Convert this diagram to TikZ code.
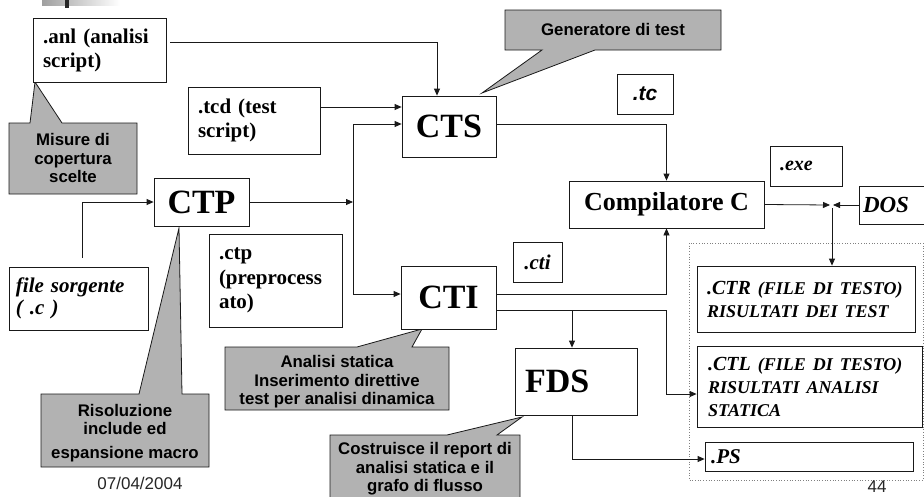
\documentclass[tikz,border=0pt]{standalone}
\usepackage{fontspec}
\setmainfont{Liberation Serif}
\setsansfont{Liberation Sans}
\usetikzlibrary{arrows.meta}
\definecolor{callgray}{RGB}{178,178,178}
\definecolor{edge}{RGB}{25,25,25}
\begin{document}
\begin{tikzpicture}[x=1pt,y=-1pt,
  box/.style={draw=edge, line width=0.8pt, fill=white, inner sep=0pt,
    font=\bfseries\fontsize{21}{24}\selectfont},
  ibox/.style={box, font=\bfseries\itshape\fontsize{21}{23}\selectfont},
  bigbox/.style={box, font=\bfseries\fontsize{34}{36}\selectfont},
  arr/.style={draw=edge, line width=0.8pt, -{Triangle[length=7pt,width=6pt]}},
  note/.style={fill=callgray, draw=edge, line width=0.8pt, line join=miter},
  notetext/.style={font=\sffamily\bfseries\fontsize{16.8}{18.5}\selectfont,
    align=center, inner sep=0pt},
  foot/.style={font=\sffamily\fontsize{17}{19}\selectfont, text=black!85,
    inner sep=0pt, anchor=north}]
\useasboundingbox (0,0) rectangle (924,496);
\clip (0,0) rectangle (924,496);

% title bar ornament
\shade[left color=gray!75, right color=white] (42,0) rectangle (120,5);
\fill[black!85] (65,0) rectangle (69,8);

% callout shapes (drawn first, boxes sit on top)
\path[note] (9,123) -- (30,123) -- (35,82) -- (62,123) -- (137,123)
  -- (137,194) -- (9,194) -- cycle;
\path[note] (505,10) -- (721,10) -- (721,50) -- (595,50) -- (482,93)
  -- (542,50) -- (505,50) -- cycle;
\path[note] (41,394) -- (139,394) -- (179,228) -- (182,394) -- (209,394)
  -- (209,467) -- (41,467) -- cycle;
\path[note] (225,347) -- (357,347) -- (422,329) -- (412,347) -- (449,347)
  -- (449,410) -- (225,410) -- cycle;
\path[note] (330,435) -- (447,435) -- (522,417) -- (497,435) -- (520,435)
  -- (520,505) -- (330,505) -- cycle;

\node[notetext] (misure) at (73,158) {Misure di\\copertura\\scelte};
\node[notetext] (gener) at (613,29) {Generatore di test};
\node[notetext] (risol) at (125,433) {Risoluzione\\include ed\\[5pt]espansione macro};
\node[notetext] (analisi) at (337,382) {Analisi statica\\Inserimento direttive\\test per analisi dinamica};
\node[notetext] (costr) at (425,469) {Costruisce il report di\\analisi statica e il\\grafo di flusso};

% output area
\draw[gray, dotted, line width=0.7pt] (689,243) rectangle (923,480);

% file boxes
\node[box, minimum width=133, minimum height=64, text width=113, align=left]
  (anl) at (99.5,50) {.anl (analisi\\script)};
\node[box, minimum width=132, minimum height=67, text width=112, align=left]
  (tcd) at (254,120.5) {.tcd (test\\script)};
\node[box, minimum width=133, minimum height=93, text width=113, align=left,
  font=\bfseries\fontsize{21}{24.5}\selectfont]
  (ctp) at (275.5,280.5) {.ctp\\(preprocess\\ato)};
\node[ibox, minimum width=139, minimum height=63, text width=125, align=left,
  font=\bfseries\itshape\fontsize{21}{21.5}\selectfont]
  (src) at (78.5,298.5) {file sorgente\\( .c )};
\node[box, minimum width=56, minimum height=40,
  font=\sffamily\bfseries\itshape\fontsize{21}{23}\selectfont]
  (tc) at (645,94) {.tc};
\node[ibox, minimum width=72, minimum height=40, text width=52, align=left,
  font=\bfseries\itshape\fontsize{20}{22}\selectfont]
  (exe) at (806,166) {.exe};
\node[ibox, minimum width=49, minimum height=40] (cti) at (537.5,262) {.cti};
\node[ibox, minimum width=70, minimum height=38, text width=62, align=left,
  font=\bfseries\itshape\fontsize{23}{25}\selectfont]
  (DOS) at (894,205) {DOS};

% tools
\node[bigbox, minimum width=94, minimum height=61] (CTS) at (449,126.5) {CTS};
\node[bigbox, minimum width=95, minimum height=48] (CTP) at (201.5,202) {CTP};
\node[bigbox, minimum width=95, minimum height=63] (CTI) at (448.5,297.5) {CTI};
\node[bigbox, minimum width=122, minimum height=67, text width=102, align=left]
  (FDS) at (576,381.5) {FDS};
\node[box, minimum width=195, minimum height=47,
  font=\bfseries\fontsize{26}{28}\selectfont]
  (comp) at (666.5,204.5) {Compilatore C};

% results
\node[ibox, minimum width=218, minimum height=66, text width=198, align=left]
  (CTR) at (806,299)
  {{\fontsize{20}{23}\selectfont .CTR} {\fontsize{18}{23}\selectfont (FILE DI TESTO)}\\
   \fontsize{18}{23}\selectfont RISULTATI DEI TEST};
\node[ibox, minimum width=225, minimum height=81, text width=203, align=left]
  (CTL) at (809.5,386.5)
  {{\fontsize{20}{23}\selectfont .CTL} {\fontsize{18}{23}\selectfont (FILE DI TESTO)}\\
   \fontsize{18}{23}\selectfont RISULTATI ANALISI\\STATICA};
\node[ibox, minimum width=208, minimum height=29, text width=196, align=left]
  (PS) at (809,456.5) {.PS};

% connectors
\coordinate (jn) at (353,202);
\coordinate (K) at (832,205);
\coordinate (ctiout) at ([yshift=-12.5]CTI.east);
\coordinate (fdsin) at ([xshift=-4]FDS.north);

\draw[arr] ([shift={(4,-8)}]anl.east) -| ([xshift=-12]CTS.north);
\draw[arr] ([yshift=13.5]tcd.east) -- ([yshift=13.5]tcd.east -| CTS.west);
\draw[arr] ([shift={(3.5,-9)}]src.north) |- (CTP.west);
\draw[arr] (CTP.east) -- (jn);
\draw[arr] (jn) |- ([yshift=2.5]CTS.west);
\draw[arr] (jn) |- ([yshift=3.5]CTI.west);
\draw[arr] ([yshift=2.5]CTS.east) -| (comp.north);
\draw[arr] ([yshift=3.5]CTI.east) -| (comp.south);
\draw[arr] (ctiout) -- ++(170,0) |- ([yshift=-7.5]CTL.west);
\draw[arr] (ctiout -| fdsin) -- (fdsin);
\draw[arr] ([xshift=-4]FDS.south) |- ([yshift=-2.5]PS.west);
\draw[arr] (comp.east) -- ([xshift=-2]K);
\draw[arr] (DOS.west) -- ([xshift=1]K);
\draw[arr] ([yshift=-3]K) -- (K |- CTR.north);

% footer
\node[foot] (date) at (140,477) {07/04/2004};
\node[foot] (page) at (877,481) {44};
\end{tikzpicture}
\end{document}
